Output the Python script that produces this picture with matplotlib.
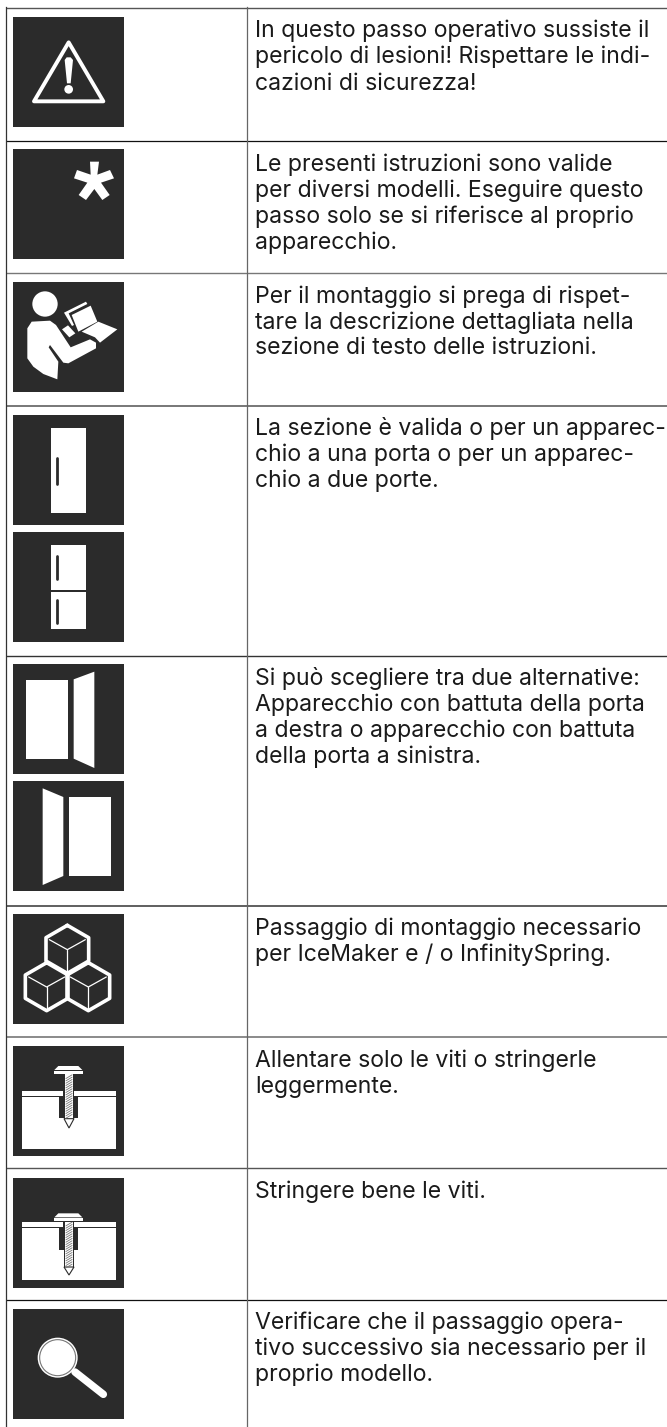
import matplotlib.pyplot as plt
from matplotlib.patches import Polygon, Rectangle, Circle
from matplotlib.transforms import Affine2D

# Tabella dei simboli
plt.rcParams['font.family'] = ['Inter', 'DejaVu Sans']

DARK = '#2b2b2b'
FS = 16.6
PITCH = 26

row_lines = [7.5, 140.5, 272.5, 405.5, 655.5, 905.5, 1037, 1168, 1299.5]
line_colors = ['#555555', '#111111', '#777777', '#777777', '#333333', '#444444', '#777777', '#555555', '#111111']
line_widths = [1.0, 0.9, 1.0, 1.4, 1.0, 1.2, 1.2, 1.0, 0.9]

row_texts = [
    ['In questo passo operativo sussiste il', 'pericolo di lesioni! Rispettare le indi-', 'cazioni di sicurezza!'],
    ['Le presenti istruzioni sono valide', 'per diversi modelli. Eseguire questo', 'passo solo se si riferisce al proprio', 'apparecchio.'],
    ['Per il montaggio si prega di rispet-', 'tare la descrizione dettagliata nella', 'sezione di testo delle istruzioni.'],
    ['La sezione è valida o per un apparec-', 'chio a una porta o per un apparec-', 'chio a due porte.'],
    ['Si può scegliere tra due alternative:', 'Apparecchio con battuta della porta', 'a destra o apparecchio con battuta', 'della porta a sinistra.'],
    ['Passaggio di montaggio necessario', 'per IceMaker e / o InfinitySpring.'],
    ['Allentare solo le viti o stringerle', 'leggermente.'],
    ['Stringere bene le viti.'],
    ['Verificare che il passaggio opera-', 'tivo successivo sia necessario per il', 'proprio modello.'],
]

icon_tops = [17, 149, 282, 415, 532, 664, 781, 914, 1046, 1178, 1309]
icon_names = ['warning', 'star', 'reader', 'fridge1', 'fridge2', 'door_r', 'door_l', 'cubes', 'screw_loose', 'screw_tight', 'lens']

fig = plt.figure(figsize=(6.67, 14.27), dpi=100)
ax = fig.add_axes([0, 0, 1, 1])
ax.set_xlim(0, 667)
ax.set_ylim(1427, 0)
ax.axis('off')

# Griglia
for y, c, w in zip(row_lines, line_colors, line_widths):
    ax.plot([5.5, 667], [y, y], color=c, lw=w, solid_capstyle='butt')
ax.plot([5.5, 5.5], [7, 1427], color='#333333', lw=0.9)
ax.plot([246.5, 246.5], [7, 1427], color='#666666', lw=0.9)

# Testo
for y0, lines in zip(row_lines, row_texts):
    for i, s in enumerate(lines):
        ax.text(255, y0 + 30 + i * PITCH, s, fontsize=FS, color='#1a1a1a', va='baseline', ha='left')


# Le icone sono descritte in coordinate ingrandite 3x rispetto al riquadro
def poly(tr, pts, fc='white', ec='none', lw=0, **kw):
    ax.add_patch(Polygon(pts, closed=kw.pop('closed', True), fc=fc, ec=ec, lw=lw, transform=tr, **kw))

def rect(tr, x0, y0, x1, y1, fc='white'):
    ax.add_patch(Rectangle((x0, y0), x1 - x0, y1 - y0, fc=fc, ec='none', transform=tr))

def line(tr, xs, ys, c='white', lw=1.0, cap='round'):
    ax.plot(xs, ys, color=c, lw=lw, transform=tr, solid_capstyle=cap, solid_joinstyle='round')

def warning(tr):
    poly(tr, [(206, 127), (102, 304), (310, 304)], fc='none', ec='white', lw=2.8, joinstyle='round')
    poly(tr, [(194, 180), (200, 172), (212, 172), (219, 180), (212, 250), (201, 250)])
    ax.add_patch(Circle((206, 268), 13, fc='white', ec='none', transform=tr))

def star(tr):
    poly(tr, [(270, 485), (297, 485), (292, 524), (330, 510), (342, 535), (303, 548), (329, 585), (307, 600),
              (283, 567), (258, 600), (236, 585), (262, 548), (222, 535), (231, 510), (272, 524)])

def reader(tr):
    ax.add_patch(Circle((135, 912), 38, fc='white', ec='none', transform=tr))
    poly(tr, [(82, 985), (95, 965), (150, 962), (168, 975), (212, 1042), (270, 1018), (288, 1028), (288, 1045),
              (205, 1090), (190, 1088), (150, 1035), (146, 1042), (175, 1085), (172, 1138), (130, 1122), (100, 1100), (82, 1075)])
    poly(tr, [(215, 945), (272, 917), (292, 965), (235, 995)])
    poly(tr, [(192, 938), (258, 905), (262, 912), (206, 940), (222, 975), (216, 978)])
    poly(tr, [(186, 988), (204, 976), (226, 1000), (208, 1012)])
    poly(tr, [(245, 995), (295, 965), (352, 988), (300, 1028), (285, 1012)])

def fridge1(tr):
    rect(tr, 152, 84, 258, 338)
    line(tr, [170, 170], [175, 252], DARK, 2.0)

def fridge2(tr):
    rect(tr, 152, 434, 258, 569)
    rect(tr, 152, 575, 258, 688)
    line(tr, [170, 170], [468, 536], DARK, 2.0)
    line(tr, [170, 170], [600, 668], DARK, 2.0)

def door_r(tr):
    rect(tr, 77, 841, 204, 1076)
    poly(tr, [(221, 838), (283, 815), (283, 1104), (221, 1076)])

def door_l(tr):
    poly(tr, [(128, 1165), (190, 1191), (190, 1428), (128, 1455)])
    rect(tr, 207, 1191, 334, 1427)

def cube(tr, cx, cy):
    # esagono esterno e spigoli interni
    xs = [cx, cx + 64, cx + 64, cx, cx - 64, cx - 64, cx]
    ys = [cy - 70, cy - 33, cy + 37, cy + 74, cy + 37, cy - 33, cy - 70]
    line(tr, xs, ys, 'white', 2.6)
    line(tr, [cx - 54, cx, cx + 54], [cy - 27, cy + 3, cy - 27], 'white', 0.9)
    line(tr, [cx, cx], [cy + 3, cy + 68], 'white', 0.9)

def cubes(tr):
    cube(tr, 202, 146)
    cube(tr, 140, 258)
    cube(tr, 265, 258)

def screw(tr, top, head, shaft_end, tip):
    rect(tr, 65, top, 347, top + 15)
    rect(tr, 65, top + 18, 347, top + 174)
    rect(tr, 178, top + 15, 235, top + 82, DARK)
    rect(tr, 190, top, 223, top + 18, DARK)
    poly(tr, [(175, head), (235, head), (247, head + 12), (163, head + 12)])
    rect(tr, 162, head + 15, 250, head + 23)
    rect(tr, 192, head + 23, 222, shaft_end, DARK)
    rect(tr, 196, head + 25, 218, shaft_end)
    poly(tr, [(192, shaft_end), (222, shaft_end), (207, tip)], fc='white', ec=DARK, lw=0.8)
    y = head + 32
    while y < shaft_end:
        line(tr, [197, 217], [y + 6, y - 6], '#777777', 0.6, 'butt')
        y += 7

def screw_loose(tr):
    screw(tr, 572, 497, 655, 683)

def screw_tight(tr):
    screw(tr, 966, 939, 1100, 1124)

def lens(tr):
    line(tr, [225, 310], [1415, 1482], 'white', 5.4)
    ax.add_patch(Circle((173, 1372), 60, fc='white', ec='none', transform=tr))
    ax.add_patch(Circle((173, 1372), 54, fc='none', ec='#777777', lw=0.8, transform=tr))

# origine verticale (3x) di ciascun riquadro nei ritagli
zoom_tops = [51, 447, 846, 45, 396, 792, 1143, 42, 437, 833, 1226]
draw = dict(warning=warning, star=star, reader=reader, fridge1=fridge1, fridge2=fridge2, door_r=door_r,
            door_l=door_l, cubes=cubes, screw_loose=screw_loose, screw_tight=screw_tight, lens=lens)

for name, top, ztop in zip(icon_names, icon_tops, zoom_tops):
    ax.add_patch(Rectangle((13, top), 111, 110, fc=DARK, ec='none'))
    tr = Affine2D().translate(-39, -ztop).scale(1 / 3).translate(13, top) + ax.transData
    draw[name](tr)

fig.savefig('out.png', dpi=100)
